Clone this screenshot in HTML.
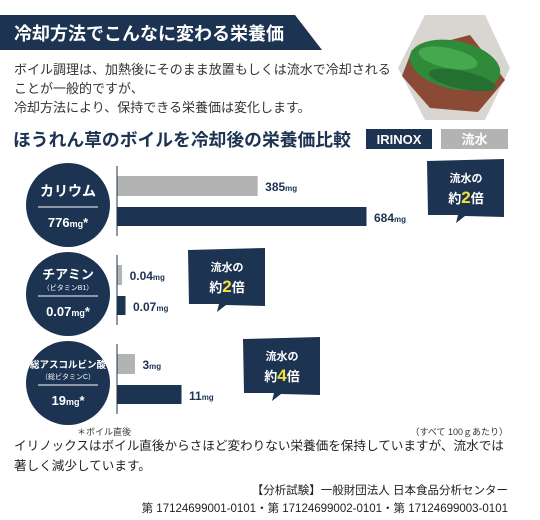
<!DOCTYPE html>
<html><head><meta charset="utf-8">
<style>
body{margin:0;width:540px;height:520px;background:#fff;overflow:hidden;position:relative;font-family:"Liberation Sans","Noto Sans CJK JP",sans-serif;color:#222}
.abs{position:absolute;white-space:nowrap}
</style></head><body>
<svg class="abs" style="left:0;top:0" width="540" height="520">
 <polygon points="0,15 295,15 322,50 0,50" fill="#1c3352"/>
 <g>
  <polygon points="425,15 485,15 510,68 485,120 425,120 398,68" fill="#d9d6d2"/>
  <polygon points="412,50 470,35 505,80 478,112 430,108 402,76" fill="#8a4a35"/>
  <ellipse cx="455" cy="65" rx="46" ry="24" fill="#2f8a3a" transform="rotate(12 455 65)"/>
  <ellipse cx="448" cy="58" rx="30" ry="10" fill="#46a84e" transform="rotate(12 448 58)"/>
  <ellipse cx="462" cy="80" rx="34" ry="9" fill="#237030" transform="rotate(12 462 80)"/>
 </g>
 <rect x="366" y="129" width="66" height="20" fill="#1c3352"/>
 <rect x="441" y="129" width="67" height="20" fill="#b3b3b3"/>
 <text x="399" y="144" fill="#fff" font-size="13" font-weight="bold" text-anchor="middle">IRINOX</text>
 <text x="474.5" y="144" fill="#fff" font-size="13" font-weight="bold" text-anchor="middle">流水</text>
</svg>
<div class="abs" style="left:14px;top:20px;color:#fff;font-size:18px;font-weight:bold">冷却方法でこんなに変わる栄養価</div>
<div class="abs" style="left:14px;top:60px;font-size:13px;line-height:19px;color:#333">ボイル調理は、加熱後にそのまま放置もしくは流水で冷却される<br>ことが一般的ですが、<br>冷却方法により、保持できる栄養価は変化します。</div>
<div class="abs" style="left:13px;top:126px;font-size:17.8px;font-weight:bold;color:#1c3352">ほうれん草のボイルを冷却後の栄養価比較</div>

<svg id="chart" class="abs" style="left:0;top:0" width="540" height="520"></svg>

<div class="abs" style="left:77px;top:425px;font-size:9px;color:#333">＊ボイル直後</div>
<div class="abs" style="right:32px;top:425px;font-size:9px;color:#333">（すべて 100ｇあたり）</div>
<div class="abs" style="left:14px;top:436px;font-size:12.6px;line-height:20px;color:#222">イリノックスはボイル直後からさほど変わりない栄養価を保持していますが、流水では<br>著しく減少しています。</div>
<div class="abs" style="right:32px;top:482px;font-size:11.5px;line-height:18px;text-align:right;color:#222">【分析試験】一般財団法人 日本食品分析センター<br>第 17124699001-0101・第 17124699002-0101・第 17124699003-0101</div>

<script>
const categories=["カリウム","チアミン","総アスコルビン酸"];
const subLabels=["","（ビタミンB1）","（総ビタミンC）"];
const baseValues=["776","0.07","19"];
const waterValues=[385,0.04,3];
const irinoxValues=[684,0.07,11];
const waterLabels=["385","0.04","3"];
const irinoxLabels=["684","0.07","11"];
const ratios=["2","2","4"];
const NS="http://www.w3.org/2000/svg";
const svg=document.getElementById('chart');
const navy="#1c3352",gray="#b3b3b3";
const groupTop=[166,255,344];
const groupFull=[249,8,64];
const groupMax=[684,0.07,11];
const calloutX=[427,188,243];
const calloutY=[159,248,337];
const axisX=117;
function xs(g,v){return v/groupMax[g]*groupFull[g];}
function el(t,a,p){const e=document.createElementNS(NS,t);for(const k in a)e.setAttribute(k,a[k]);(p||svg).appendChild(e);return e;}
function txt(x,y,s,a,p){const e=el('text',Object.assign({x:x,y:y},a),p);e.textContent=s;return e;}
categories.forEach((c,i)=>{
 const t=groupTop[i], cy=t+39;
 const g=el('g',{});
 
 
 const circ=el('circle',{cx:68,cy:cy,r:42,fill:navy},g);
 
 
 if(subLabels[i]){
  txt(68,cy-15,c,{fill:'#fff','font-size':i==2?9.5:13,'font-weight':'bold','text-anchor':'middle'},g);
  txt(68,cy-4,subLabels[i],{fill:'#fff','font-size':7,'text-anchor':'middle'},g);
 } else txt(68,cy-9,c,{fill:'#fff','font-size':14,'font-weight':'bold','text-anchor':'middle'},g);
 el('line',{x1:38,x2:98,y1:cy+2,y2:cy+2,stroke:'#fff','stroke-width':1},g);
 const bv=txt(68,cy+22,'',{fill:'#fff','font-size':13,'font-weight':'bold','text-anchor':'middle'},g);
 bv.innerHTML=baseValues[i]+'<tspan font-size="9">mg</tspan>*';
 el('line',{x1:axisX,x2:axisX,y1:t,y2:t+70,stroke:navy,'stroke-width':1},g);
 const wb=el('rect',{x:axisX+0.5,y:t+10,width:xs(i,waterValues[i]),height:20,fill:gray},g);
 
 
 const ib=el('rect',{x:axisX+0.5,y:t+41,width:xs(i,irinoxValues[i]),height:19,fill:navy},g);
 
 
 const wl=txt(axisX+xs(i,waterValues[i])+8,t+25,'',{fill:navy,'font-size':12,'font-weight':'bold'},g);
 wl.innerHTML=waterLabels[i]+'<tspan font-size="8">mg</tspan>';
 const il=txt(axisX+xs(i,irinoxValues[i])+8,t+56,'',{fill:navy,'font-size':12,'font-weight':'bold'},g);
 il.innerHTML=irinoxLabels[i]+'<tspan font-size="8">mg</tspan>';
 const cx=calloutX[i],cyy=calloutY[i];
 const cb=el('polygon',{points:`${cx},${cyy+2} ${cx+77},${cyy} ${cx+77},${cyy+58} ${cx+38},${cyy+57} ${cx+29},${cyy+64} ${cx+31},${cyy+56} ${cx+1},${cyy+56}`,fill:navy},g);
 
 
 txt(cx+39,cyy+23,'流水の',{fill:'#fff','font-size':11,'font-weight':'bold','text-anchor':'middle'},g);
 const r=txt(cx+39,cyy+44,'',{fill:'#fff','font-size':13,'font-weight':'bold','text-anchor':'middle'},g);
 r.innerHTML='約<tspan fill="#f5e03a" font-size="17">'+ratios[i]+'</tspan>倍';
});
</script>
</body></html>
